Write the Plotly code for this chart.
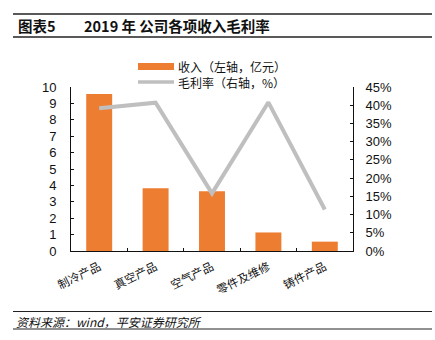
import plotly.graph_objects as go

# Revenue by product line (100m CNY) and gross margin
categories = ["制冷产品", "真空产品", "空气产品", "零件及维修", "铸件产品"]
revenue = [9.57, 3.82, 3.65, 1.13, 0.57]
gross_margin = [0.392, 0.407, 0.158, 0.408, 0.114]

W, H = 435, 340
L, R, T, B = 71, 82, 87, 89
PW, PH = W - L - R, H - T - B


def px(x):
    return (x - L) / PW


def py(y):
    return (H - B - y) / PH


FONT = "Liberation Sans, Arial, Noto Sans CJK SC, sans-serif"
CJK = "Noto Sans CJK SC, Liberation Sans, sans-serif"
ORANGE = "#ED7D31"
GREY = "#BFBFBF"

fig = go.Figure()
fig.add_trace(go.Bar(
    x=categories, y=revenue, name="收入（左轴，亿元）",
    marker=dict(color=ORANGE, line=dict(width=0)),
    yaxis="y", showlegend=False,
))
fig.add_trace(go.Scatter(
    x=categories, y=gross_margin, name="毛利率（右轴，%）",
    mode="lines", line=dict(color=GREY, width=4),
    yaxis="y2", showlegend=False,
))

shapes = []
annotations = []

# header and footer rules
for yy, w in [(14, 1.5), (37, 1.5), (311.5, 1.2), (329, 1.2)]:
    shapes.append(dict(type="line", xref="paper", yref="paper",
                       x0=px(13), x1=px(432), y0=py(yy), y1=py(yy),
                       line=dict(color="#222222", width=w)))

annotations.append(dict(text="<b>图表5</b>", xref="paper", yref="paper",
                        x=px(16), y=py(26), xanchor="left", yanchor="middle",
                        showarrow=False, font=dict(family=CJK, size=14.5, color="#111")))
annotations.append(dict(text="<b>2019 年 公司各项收入毛利率</b>", xref="paper", yref="paper",
                        x=px(82), y=py(26), xanchor="left", yanchor="middle",
                        showarrow=False, font=dict(family=CJK, size=14.5, color="#111")))
annotations.append(dict(text="<i>资料来源：wind，平安证券研究所</i>", xref="paper", yref="paper",
                        x=px(14), y=py(321), xanchor="left", yanchor="middle",
                        showarrow=False, font=dict(family=CJK, size=12, color="#111")))

# legend
shapes.append(dict(type="rect", xref="paper", yref="paper",
                   x0=px(138), x1=px(174), y0=py(70), y1=py(63),
                   fillcolor=ORANGE, line=dict(width=0)))
shapes.append(dict(type="line", xref="paper", yref="paper",
                   x0=px(138), x1=px(174), y0=py(82), y1=py(82),
                   line=dict(color=GREY, width=3.5)))
annotations.append(dict(text="收入（左轴，亿元）", xref="paper", yref="paper",
                        x=px(176), y=py(66.5), xanchor="left", yanchor="middle",
                        showarrow=False, font=dict(family=CJK, size=12, color="#111")))
annotations.append(dict(text="毛利率（右轴，%）", xref="paper", yref="paper",
                        x=px(176), y=py(82), xanchor="left", yanchor="middle",
                        showarrow=False, font=dict(family=CJK, size=12, color="#111")))

fig.update_layout(
    width=W, height=H,
    margin=dict(l=L, r=R, t=T, b=B, pad=0),
    paper_bgcolor="white", plot_bgcolor="white",
    bargap=0.54,
    font=dict(family=FONT, size=12, color="#111"),
    xaxis=dict(
        type="category", showline=True, linecolor="#111", linewidth=1,
        ticks="inside", tickson="boundaries", ticklen=3, tickcolor="#111",
        tickangle=-26, ticklabelstandoff=4,
        tickfont=dict(family=CJK, size=11.5, color="#111"),
        showgrid=False, zeroline=False,
    ),
    yaxis=dict(
        range=[0, 10], dtick=1, showline=True, linecolor="#111", linewidth=1,
        ticks="inside", ticklen=3, tickcolor="#111", showgrid=False, zeroline=False,
        ticklabelstandoff=11,
        tickfont=dict(family=FONT, size=13, color="#111"),
    ),
    yaxis2=dict(
        range=[0, 0.45], dtick=0.05, tickformat=".0%", overlaying="y", side="right",
        showline=True, linecolor="#111", linewidth=1,
        ticks="inside", ticklen=3, tickcolor="#111", showgrid=False, zeroline=False,
        ticklabelstandoff=9,
        tickfont=dict(family=FONT, size=13, color="#111"),
    ),
    shapes=shapes,
    annotations=annotations,
)

fig.write_html("out.html")
